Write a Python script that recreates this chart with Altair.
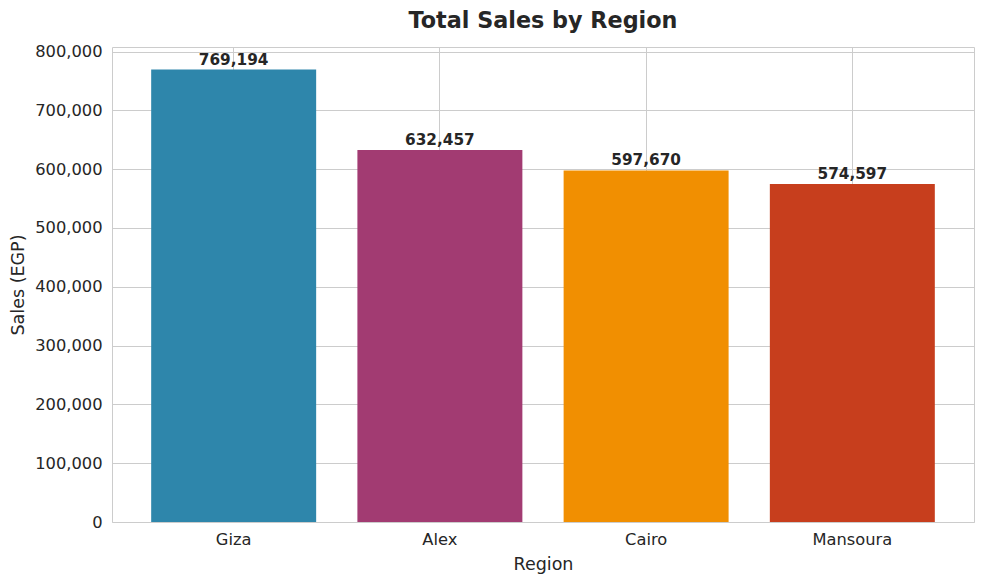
import altair as alt
import pandas as pd

regions = ["Giza", "Alex", "Cairo", "Mansoura"]
sales = [769194, 632457, 597670, 574597]
colors = ["#2E86AB", "#A23B72", "#F18F01", "#C73E1D"]

df = pd.DataFrame({"Region": regions, "Sales": sales})
FONT = "DejaVu Sans"

x = alt.X("Region:N", sort=regions, title="Region",
          scale=alt.Scale(paddingInner=0.2, paddingOuter=0.19),
          axis=alt.Axis(labelAngle=0, grid=True, bandPosition=0.5, ticks=False,
                        domain=False, labelPadding=9, titlePadding=8,
                        labelFontSize=16.3, titleFontSize=17.5, labelColor="#262626",
                        titleColor="#262626", titleFontWeight="normal"))
y = alt.Y("Sales:Q", title="Sales (EGP)",
          scale=alt.Scale(domain=[0, 807654], nice=False, zero=True),
          axis=alt.Axis(format=",.0f", values=list(range(0, 800001, 100000)), ticks=False,
                        domain=False, labelPadding=10, titlePadding=7,
                        labelFontSize=16.3, titleFontSize=17.5, labelColor="#262626",
                        titleColor="#262626", titleFontWeight="normal"))

bars = alt.Chart(df).mark_bar().encode(
    x=x, y=y,
    color=alt.Color("Region:N", sort=regions,
                    scale=alt.Scale(domain=regions, range=colors), legend=None),
)
labels = alt.Chart(df).mark_text(dy=-10, fontSize=15.3, fontWeight="bold", color="#262626",
                                 font=FONT).encode(
    x=alt.X("Region:N", sort=regions), y="Sales:Q",
    text=alt.Text("Sales:Q", format=",.0f"),
)

chart = (bars + labels).properties(
    width=862, height=475,
    title=alt.TitleParams("Total Sales by Region", fontSize=22.3, fontWeight="bold",
                          color="#262626", font=FONT, offset=11),
    autosize=alt.AutoSizeParams(type="none"),
    padding={"left": 104, "top": 39, "right": 2, "bottom": 54},
).configure(font=FONT).configure_view(
    stroke="#cccccc", strokeWidth=1
).configure_axis(
    gridColor="#cccccc", gridWidth=1, labelFont=FONT, titleFont=FONT
)

chart.save("out.html", embed_options={"renderer": "svg", "actions": False})
